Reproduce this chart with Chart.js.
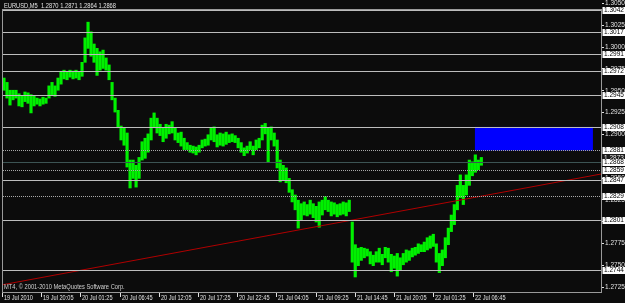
<!DOCTYPE html>
<html><head><meta charset="utf-8">
<script src="https://cdn.jsdelivr.net/npm/chart.js@4/dist/chart.umd.min.js"></script>
<style>html,body{margin:0;padding:0;background:#0c0c0c;overflow:hidden}#wrap{width:625px;height:303px}</style>
</head><body><div id="wrap"><canvas id="c" width="625" height="303"></canvas></div>
<script>
// ---------- data ----------
const symbolTitle = "EURUSD,M5";
const lastBarOHLC = [1.2870, 1.2871, 1.2864, 1.2868];
const timeTickLabels = ["19 Jul 2010","19 Jul 20:05","20 Jul 01:25","20 Jul 06:45","20 Jul 12:05","20 Jul 17:25","20 Jul 22:45","21 Jul 04:05","21 Jul 09:25","21 Jul 14:45","21 Jul 20:05","22 Jul 01:25","22 Jul 06:45"];
const timeTickStepMin = 320;          // minutes between time labels (from 19 Jul 14:45)
const sampleStartMin = 8;             // time of first sampled bar
const sampleStepMin = 24.5;           // minutes between sampled bars
const barHighs = [
1.2964,1.2959,1.2950,1.2950,1.2950,1.2946,1.2943,1.2948,1.2947,1.2945,
1.2943,1.2941,1.2940,1.2942,1.2941,1.2955,1.2959,1.2955,1.2964,1.2971,
1.2973,1.2971,1.2973,1.2972,1.2973,1.2971,1.2982,1.3010,1.3028,1.3017,
1.3003,1.2998,1.2994,1.2996,1.2987,1.2979,1.2959,1.2941,1.2927,1.2909,
1.2907,1.2901,1.2870,1.2870,1.2864,1.2873,1.2891,1.2895,1.2900,1.2918,
1.2924,1.2918,1.2911,1.2907,1.2911,1.2910,1.2914,1.2907,1.2901,1.2902,
1.2895,1.2890,1.2887,1.2886,1.2885,1.2887,1.2893,1.2894,1.2899,1.2907,
1.2908,1.2899,1.2901,1.2900,1.2902,1.2899,1.2900,1.2898,1.2895,1.2890,
1.2884,1.2886,1.2891,1.2886,1.2893,1.2895,1.2910,1.2912,1.2907,1.2908,
1.2901,1.2893,1.2870,1.2864,1.2861,1.2849,1.2836,1.2830,1.2824,1.2820,
1.2822,1.2819,1.2824,1.2820,1.2817,1.2822,1.2824,1.2828,1.2824,1.2822,
1.2821,1.2819,1.2820,1.2822,1.2821,1.2824,1.2799,1.2773,1.2769,1.2770,
1.2769,1.2768,1.2765,1.2761,1.2765,1.2769,1.2762,1.2770,1.2769,1.2762,
1.2760,1.2763,1.2758,1.2763,1.2767,1.2766,1.2769,1.2770,1.2774,1.2773,
1.2776,1.2781,1.2783,1.2785,1.2774,1.2763,1.2767,1.2781,1.2792,1.2807,
1.2819,1.2841,1.2853,1.2841,1.2853,1.2870,1.2868,1.2876,1.2870,1.2873];
const barLows = [
1.2950,1.2941,1.2933,1.2939,1.2941,1.2932,1.2931,1.2937,1.2935,1.2924,
1.2932,1.2934,1.2932,1.2934,1.2935,1.2941,1.2945,1.2943,1.2950,1.2957,
1.2963,1.2962,1.2965,1.2963,1.2964,1.2962,1.2966,1.2982,1.2998,1.2989,
1.2982,1.2967,1.2973,1.2975,1.2973,1.2962,1.2939,1.2925,1.2907,1.2893,
1.2887,1.2862,1.2838,1.2849,1.2839,1.2849,1.2870,1.2872,1.2879,1.2893,
1.2907,1.2901,1.2898,1.2891,1.2895,1.2900,1.2901,1.2893,1.2890,1.2886,
1.2882,1.2882,1.2879,1.2878,1.2876,1.2879,1.2884,1.2886,1.2887,1.2893,
1.2891,1.2885,1.2887,1.2886,1.2888,1.2890,1.2891,1.2890,1.2884,1.2879,
1.2875,1.2878,1.2882,1.2876,1.2882,1.2884,1.2893,1.2900,1.2868,1.2893,
1.2886,1.2861,1.2845,1.2847,1.2844,1.2833,1.2822,1.2813,1.2792,1.2801,
1.2807,1.2806,1.2808,1.2804,1.2799,1.2793,1.2807,1.2813,1.2811,1.2806,
1.2808,1.2805,1.2807,1.2808,1.2806,1.2811,1.2753,1.2736,1.2749,1.2755,
1.2758,1.2760,1.2751,1.2749,1.2753,1.2753,1.2750,1.2758,1.2753,1.2742,
1.2746,1.2737,1.2744,1.2750,1.2753,1.2755,1.2759,1.2761,1.2763,1.2765,
1.2765,1.2767,1.2769,1.2771,1.2753,1.2741,1.2749,1.2758,1.2773,1.2788,
1.2796,1.2813,1.2827,1.2819,1.2830,1.2841,1.2852,1.2856,1.2859,1.2864];
const priceTicks = [1.3050,1.3025,1.3000,1.2975,1.2950,1.2925,1.2900,1.2875,1.2850,1.2825,1.2800,1.2775,1.2750,1.2725];
const levelPrices = [1.3042,1.3017,1.2991,1.2972,1.2945,1.2908,1.2881,1.2868,1.2859,1.2847,1.2829,1.2801,1.2744];
const bidPrice = 1.2873;
const zoneTimes = [3851, 4814];
const zonePrices = [1.2908, 1.2881];
const trendTimes = [0, 4880];
const trendPrices = [1.27272, 1.28540];
const copyrightText = "MT4, \u00A9 2001-2010 MetaQuotes Software Corp.";

// ---------- styles ----------
const BG = '#0c0c0c', FG = '#e2e2e2', FRAME = '#9a9a9a';
const FONT = '7px "Liberation Sans", Arial, sans-serif';
const dottedLevels = new Set([6, 8, 10]);   // indexes into levelPrices
const tealLevels = new Set([7]);

function txt(c, s, x, y, sx, color) {
  c.save(); c.translate(x, y); c.scale(sx, 1);
  c.fillStyle = color; c.font = FONT; c.textBaseline = 'middle'; c.textAlign = 'left';
  c.fillText(s, 0, 0); c.restore();
}

const mtPlugin = {
  id: 'mt',
  beforeDraw(chart) {
    const c = chart.ctx; c.save(); c.fillStyle = BG; c.fillRect(0, 0, chart.width, chart.height); c.restore();
  },
  beforeDatasetsDraw(chart) {
    const c = chart.ctx, xs = chart.scales.x, ys = chart.scales.y;
    const x0 = xs.getPixelForValue(zoneTimes[0]), x1 = xs.getPixelForValue(zoneTimes[1]);
    const y0 = ys.getPixelForValue(zonePrices[0]), y1 = ys.getPixelForValue(zonePrices[1]);
    c.save(); c.fillStyle = '#0000ff'; c.fillRect(x0, y0, x1 - x0, y1 - y0); c.restore();
  },
  afterDatasetsDraw(chart) {
    const c = chart.ctx, ys = chart.scales.y, a = chart.chartArea;
    c.save();
    levelPrices.forEach((p, i) => {
      const y = Math.round(ys.getPixelForValue(p)) + 0.5;
      c.beginPath();
      c.strokeStyle = tealLevels.has(i) ? '#3c5454' : (dottedLevels.has(i) ? '#a8a8a8' : '#bdbdbd');
      c.setLineDash(dottedLevels.has(i) ? [1, 1] : []);
      c.lineWidth = 1; c.moveTo(a.left, y); c.lineTo(a.right, y); c.stroke();
    });
    c.setLineDash([]);
    c.strokeStyle = FRAME; c.lineWidth = 1;
    c.strokeRect(a.left - 0.5, a.top + 0.5, a.right - a.left + 1, a.bottom - a.top);
    c.restore();
  },
  afterDraw(chart) {
    const c = chart.ctx, xs = chart.scales.x, ys = chart.scales.y, a = chart.chartArea;
    c.save();
    priceTicks.forEach(p => {
      const y = ys.getPixelForValue(p);
      c.fillStyle = FG; c.fillRect(a.right + 1, Math.round(y), 2, 1);
      txt(c, p.toFixed(4), a.right + 4, y + 0.5, 0.93, FG);
    });
    const yb = ys.getPixelForValue(bidPrice);
    c.fillStyle = '#1a1a1a'; c.fillRect(a.right + 1, yb - 3.5, 24, 7);
    txt(c, bidPrice.toFixed(4), a.right + 3, yb + 0.5, 0.93, '#e8e8e8');
    levelPrices.forEach(p => {
      const y = ys.getPixelForValue(p);
      c.fillStyle = '#ffffff'; c.fillRect(a.right + 1.5, Math.round(y) - 3, 24, 7);
      txt(c, p.toFixed(4), a.right + 3, Math.round(y) + 0.5, 0.93, '#000000');
    });
    timeTickLabels.forEach((lab, i) => {
      const x = Math.round(xs.getPixelForValue(i * timeTickStepMin)) - 0.5;
      c.strokeStyle = FG; c.lineWidth = 1;
      c.beginPath(); c.moveTo(x, a.bottom + 1); c.lineTo(x, a.bottom + 5); c.stroke();
      txt(c, lab, x + 1.5, a.bottom + 6.5, 0.8, FG);
    });
    txt(c, symbolTitle + "  " + lastBarOHLC.map(v => v.toFixed(4)).join(" "), 4, 6, 0.82, FG);
    txt(c, copyrightText, 4, a.bottom - 5, 0.82, '#d0d0d0');
    c.restore();
  }
};

const bars = barHighs.map((h, i) => ({ x: sampleStartMin + i * sampleStepMin, y: [barLows[i], h] }));
const trend = trendTimes.map((t, i) => ({ x: t, y: trendPrices[i] }));

new Chart(document.getElementById('c').getContext('2d'), {
  type: 'bar',
  data: {
    datasets: [
      { type: 'line', data: trend, borderColor: '#b00000', borderWidth: 1, pointRadius: 0, fill: false, order: 0 },
      { type: 'bar', data: bars, backgroundColor: '#00f000', borderWidth: 0, barThickness: 2.5, grouped: false, order: 1 }
    ]
  },
  options: {
    responsive: false, animation: false, events: [],
    layout: { padding: { left: 3, right: 24, top: 9, bottom: 11 } },
    plugins: { legend: { display: false }, tooltip: { enabled: false } },
    scales: {
      x: { type: 'linear', min: 0, max: 4880, display: false, offset: false },
      y: { type: 'linear', min: 1.27188, max: 1.30431, display: false }
    }
  },
  plugins: [mtPlugin]
});
</script></body></html>
